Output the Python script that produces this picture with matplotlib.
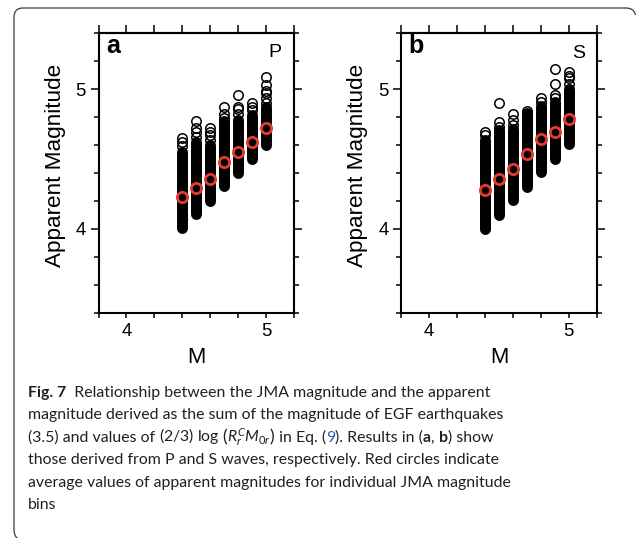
import matplotlib
matplotlib.use("Agg")
import matplotlib.pyplot as plt
from matplotlib.ticker import MultipleLocator, FixedLocator
from matplotlib.patches import PathPatch
from matplotlib.path import Path
from matplotlib.transforms import IdentityTransform
from matplotlib import font_manager

# ---------------- data ----------------
jma_bins = [4.4, 4.5, 4.6, 4.7, 4.8, 4.9, 5.0]

p_mean = [4.23, 4.29, 4.36, 4.48, 4.55, 4.62, 4.72]
p_low = [4.01, 4.11, 4.20, 4.31, 4.40, 4.50, 4.60]
p_dense_top = [4.55, 4.62, 4.60, 4.77, 4.78, 4.815, 4.87]
p_upper = [[4.65, 4.62, 4.59],
           [4.77, 4.72, 4.695, 4.66],
           [4.72, 4.695, 4.67, 4.635],
           [4.875, 4.825, 4.79],
           [4.96, 4.875, 4.855, 4.82],
           [4.90, 4.875, 4.85],
           [5.09, 5.03, 4.99, 4.97, 4.935, 4.90]]

s_mean = [4.28, 4.36, 4.43, 4.535, 4.64, 4.69, 4.785]
s_low = [4.00, 4.10, 4.205, 4.30, 4.41, 4.50, 4.605]
s_dense_top = [4.635, 4.71, 4.715, 4.83, 4.88, 4.91, 5.00]
s_upper = [[4.695, 4.67],
           [4.90, 4.765, 4.73],
           [4.82, 4.78, 4.745],
           [4.84],
           [4.935, 4.91],
           [5.145, 5.035, 4.96, 4.94],
           [5.12, 5.095, 5.08, 5.04]]

panel_letters = ["a", "b"]
wave_labels = ["P", "S"]
x_ticks = [4, 5]
y_ticks = [4, 5]
x_label = "M"
y_label = "Apparent Magnitude"

caption_lines = [
    [("Fig. 7", "bold", None), ("  Relationship between the JMA magnitude and the apparent", "normal", None)],
    [("magnitude derived as the sum of the magnitude of EGF earthquakes", "normal", None)],
    [("(3.5) and values of ", "normal", None),
     (r"$\mathrm{(2/3)\ log}\ \left(R_r^C M_{0r}\right)$", "normal", None),
     (" in Eq. (", "normal", None), ("9", "normal", "#2f5fb3"),
     ("). Results in (", "normal", None), ("a", "bold", None), (", ", "normal", None),
     ("b", "bold", None), (") show", "normal", None)],
    [("those derived from P and S waves, respectively. Red circles indicate", "normal", None)],
    [("average values of apparent magnitudes for individual JMA magnitude", "normal", None)],
    [("bins", "normal", None)],
]

# ---------------- style ----------------
W, H = 636, 538
DPI = 100

cap_font = "Lato"
try:
    font_manager.findfont(font_manager.FontProperties(family="Liberation Sans Narrow"),
                          fallback_to_default=False)
    cap_font = "Liberation Sans Narrow"
except Exception:
    pass

plt.rcParams["font.family"] = ["Liberation Sans", "DejaVu Sans"]
plt.rcParams["mathtext.fontset"] = "custom"
plt.rcParams["mathtext.rm"] = cap_font
plt.rcParams["mathtext.it"] = cap_font + ":italic"
plt.rcParams["mathtext.bf"] = cap_font + ":bold"

fig = plt.figure(figsize=(W / DPI, H / DPI), dpi=DPI)
fig.patch.set_facecolor("white")

# figure frame: top edge and left edge with rounded corners (image pixel coords, y down)
frame_pts = [(635.5, 15), (634, 8), (626, 8), (23, 8), (14, 8), (14, 17),
             (14, 529), (14, 536), (18, 539)]
frame_codes = [Path.MOVETO, Path.CURVE3, Path.CURVE3, Path.LINETO, Path.CURVE3, Path.CURVE3,
               Path.LINETO, Path.CURVE3, Path.CURVE3]
frame_path = Path([(px, H - py) for px, py in frame_pts], frame_codes)
fig.add_artist(PathPatch(frame_path, transform=IdentityTransform(), fill=False,
                         edgecolor="#3a3a3a", linewidth=0.9))

ax_lefts = [98.5, 401.2]
ax_w = 195.5
ax_top, ax_bot = 33.2, 312.8
datasets = [(p_mean, p_low, p_dense_top, p_upper), (s_mean, s_low, s_dense_top, s_upper)]
label_x = [-0.2225, -0.226]
wave_pos = [(0.937, 0.914), (0.940, 0.910)]

diam_pt = 7.9
for i in range(2):
    mean, low, dtop, upper = datasets[i]
    ax = fig.add_axes([ax_lefts[i] / W, 1 - ax_bot / H, ax_w / W, (ax_bot - ax_top) / H])
    ax.set_xlim(3.8, 5.2)
    ax.set_ylim(3.4, 5.4)
    # dense parts of each column
    lc = ax.vlines(jma_bins, low, dtop, colors="black", linewidth=diam_pt, zorder=2)
    lc.set_capstyle("round")
    # sparse upper circles
    for m, ups in zip(jma_bins, upper):
        ax.plot([m] * len(ups), ups, linestyle="none", marker="o", ms=diam_pt - 1.1,
                mew=1.1, mfc="none", mec="black", zorder=3)
    # mean circles
    ax.plot(jma_bins, mean, linestyle="none", marker="o", ms=7.4, mew=2.0,
            mfc="none", mec="#e63b2b", zorder=4)

    for sp in ax.spines.values():
        sp.set_linewidth(1.5)
    ax.xaxis.set_major_locator(FixedLocator(x_ticks))
    ax.xaxis.set_minor_locator(MultipleLocator(0.2))
    ax.yaxis.set_major_locator(FixedLocator(y_ticks))
    ax.yaxis.set_minor_locator(MultipleLocator(0.2))
    ax.tick_params(axis="x", which="both", direction="out", length=3.6, width=1.1,
                   bottom=True, top=False, labelsize=13.4, pad=4.0)
    ax.tick_params(axis="y", which="major", direction="out", length=6.0, width=1.1,
                   left=True, right=True, labelsize=13.4, pad=3.0)
    ax.tick_params(axis="y", which="minor", direction="out", length=3.8, width=1.1,
                   left=True, right=True)
    sec = ax.secondary_xaxis("top")
    sec.xaxis.set_major_locator(FixedLocator(x_ticks))
    sec.xaxis.set_minor_locator(MultipleLocator(0.2))
    sec.tick_params(axis="x", which="both", direction="out", length=5.8, width=1.1,
                    labeltop=False, labelbottom=False)
    for sp in sec.spines.values():
        sp.set_linewidth(1.5)

    ax.set_ylabel(y_label, fontsize=16.2, va="center")
    ax.yaxis.set_label_coords(label_x[i], 0.529)
    ax.set_xlabel(x_label, fontsize=15.8, va="center")
    ax.xaxis.set_label_coords(0.5, -0.1606)

    ax.text(0.038, 0.928, panel_letters[i], transform=ax.transAxes, fontsize=18,
            fontweight="bold", ha="left", va="baseline")
    ax.text(wave_pos[i][0], wave_pos[i][1], wave_labels[i], transform=ax.transAxes,
            fontsize=14, ha="right", va="baseline")

# ---------------- caption ----------------
renderer = fig.canvas.get_renderer()
cap_family = [cap_font, "DejaVu Sans"]
cap_color = "#231f20"


def seg_width(s, size, weight):
    t1 = fig.text(0, 0, s + "|", fontsize=size, fontweight=weight, family=cap_family)
    w1 = t1.get_window_extent(renderer).width
    t1.remove()
    t2 = fig.text(0, 0, "|", fontsize=size, fontweight=weight, family=cap_family)
    w2 = t2.get_window_extent(renderer).width
    t2.remove()
    return w1 - w2


ref_w = seg_width(caption_lines[1][0][0], 10, "normal")
cap_size = 10 * 475.0 / ref_w

baselines = [396.7, 419.3, 441.7, 464.3, 486.7, 509.3]
x0 = 28.3
for line, yb in zip(caption_lines, baselines):
    x = x0
    for s, weight, col in line:
        fig.text(x / W, 1 - yb / H, s, fontsize=cap_size, fontweight=weight,
                 family=cap_family, color=col or cap_color, ha="left", va="baseline")
        x += seg_width(s, cap_size, weight)

fig.savefig("out.png", dpi=DPI, facecolor="white")
